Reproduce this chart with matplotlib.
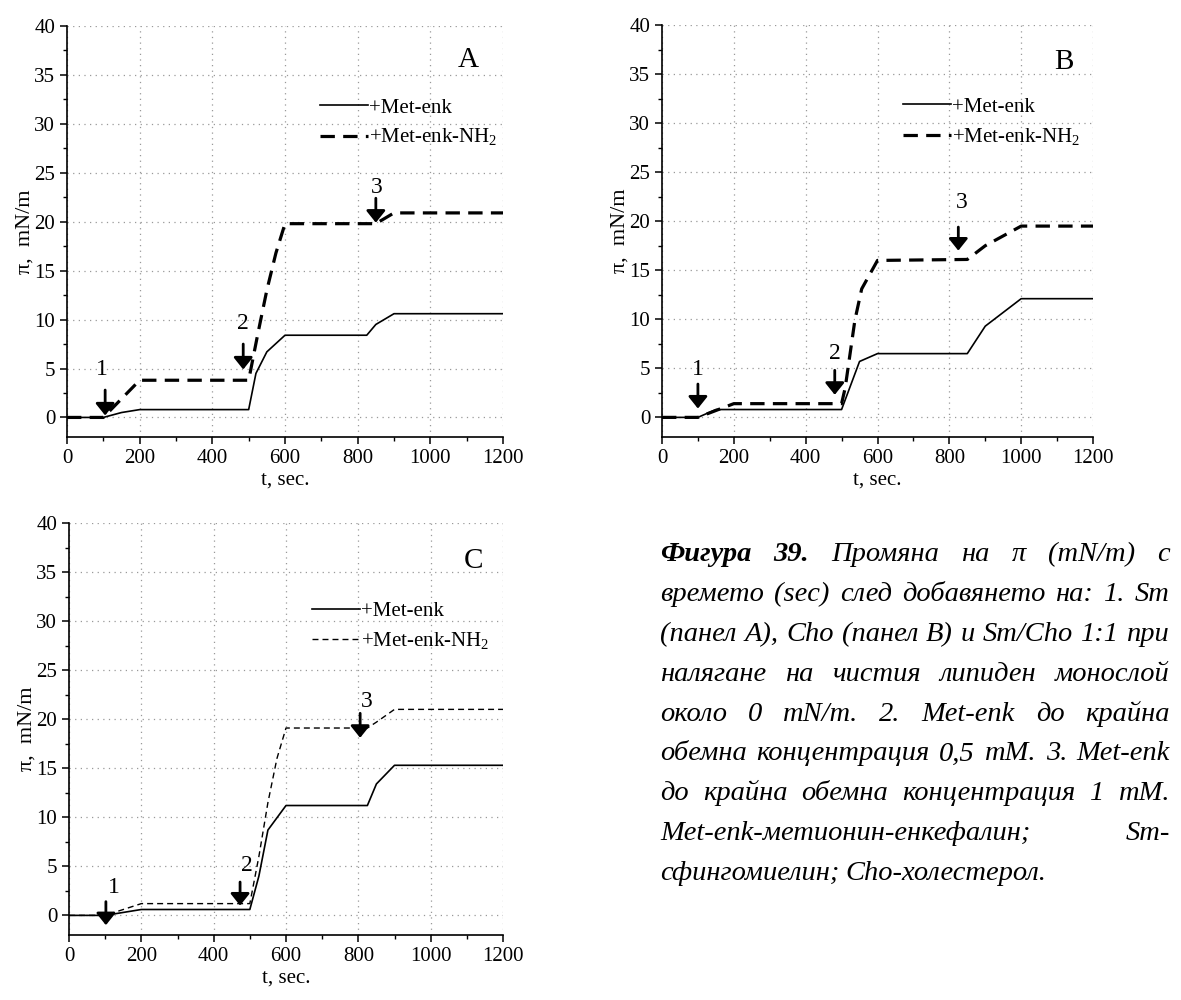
import matplotlib
matplotlib.use("Agg")
import matplotlib.pyplot as plt
from matplotlib.ticker import MultipleLocator

plt.rcParams['font.family'] = ['Liberation Serif', 'DejaVu Serif']
plt.rcParams['mathtext.fontset'] = 'custom'
plt.rcParams['mathtext.rm'] = 'Liberation Serif'

# ---- data ----
# panel A
a_t_enk = [0, 100, 150, 200, 500, 520, 550, 600, 825, 850, 900, 1200]
a_pi_enk = [0, 0, 0.5, 0.8, 0.8, 4.5, 6.7, 8.4, 8.4, 9.5, 10.6, 10.6]
a_t_nh2 = [0, 100, 200, 500, 525, 550, 575, 600, 850, 900, 1200]
a_pi_nh2 = [0, 0, 3.8, 3.8, 8.5, 13.0, 16.8, 19.8, 19.8, 20.9, 20.9]

# panel B
b_t_enk = [0, 100, 150, 500, 550, 600, 850, 900, 1000, 1200]
b_pi_enk = [0, 0, 0.8, 0.8, 5.7, 6.5, 6.5, 9.3, 12.1, 12.1]
b_t_nh2 = [0, 100, 200, 500, 510, 537, 556, 600, 850, 900, 1000, 1200]
b_pi_nh2 = [0, 0, 1.4, 1.4, 3.0, 9.9, 13.1, 16.0, 16.1, 17.5, 19.5, 19.5]

# panel C
c_t_enk = [0, 100, 200, 500, 525, 550, 600, 825, 850, 900, 1200]
c_pi_enk = [0, 0, 0.6, 0.6, 4.0, 8.7, 11.2, 11.2, 13.4, 15.3, 15.3]
c_t_nh2 = [0, 100, 200, 500, 525, 550, 575, 600, 825, 850, 900, 1200]
c_pi_nh2 = [0, 0, 1.2, 1.2, 6.0, 11.5, 16.0, 19.1, 19.1, 19.7, 21.0, 21.0]

# addition markers: (label, x of arrow, tail y, tip y, label x, label y)
a_marks = [("1", 105, 2.8, 0.2, 97, 4.9), ("2", 485, 7.5, 4.9, 484, 9.6), ("3", 850, 22.4, 19.9, 852, 23.5)]
b_marks = [("1", 100, 3.4, 0.9, 100, 4.9), ("2", 481, 4.8, 2.3, 481, 6.5), ("3", 825, 19.4, 17.0, 835, 21.9)]
c_marks = [("1", 102, 1.4, -1.0, 123, 2.8), ("2", 473, 3.4, 1.0, 492, 5.1), ("3", 805, 20.6, 18.1, 822, 21.8)]

labels = ["+Met-enk", "+Met-enk-NH$_2$"]

caption = [
    [("Фигура", True), ("39.", True), ("Промяна", False), ("на", False), ("π", False), ("(mN/m)", False), ("с", False)],
    "времето (sec) след добавянето на: 1. Sm",
    "(панел А), Cho (панел В) и Sm/Cho 1:1 при",
    "налягане на чистия липиден монослой",
    "около 0 mN/m. 2. Met-enk до крайна",
    "обемна концентрация 0,5 mM. 3. Met-enk",
    "до крайна обемна концентрация 1 mM.",
    "Met-enk-метионин-енкефалин; Sm-",
    "сфингомиелин; Cho-холестерол.",
]

W, H = 1181, 1000
fig = plt.figure(figsize=(W / 100, H / 100), dpi=100)


def panel(rect, t1, p1, t2, p2, dash, dlw, marks, letter, leg_xy):
    ax = fig.add_axes(rect)
    ax.plot(t1, p1, color='k', lw=1.2, label=labels[0])
    ax.plot(t2, p2, color='k', lw=dlw, dashes=dash, label=labels[1])
    ax.set_xlim(0, 1200)
    ax.set_ylim(-2, 40)
    ax.xaxis.set_major_locator(MultipleLocator(200))
    ax.xaxis.set_minor_locator(MultipleLocator(100))
    ax.yaxis.set_major_locator(MultipleLocator(5))
    ax.yaxis.set_minor_locator(MultipleLocator(2.5))
    for s in ['top', 'right']:
        ax.spines[s].set_visible(False)
    for s in ['left', 'bottom']:
        ax.spines[s].set_linewidth(1.2)
    ax.tick_params(which='major', length=5, width=1.1, labelsize=15, direction='out')
    ax.tick_params(which='minor', length=3, width=1.0, direction='out')
    ax.grid(True, which='major', color='#999999', ls=(0, (1, 3.5)), lw=0.9)
    ax.set_axisbelow(True)
    ax.set_xlabel("t, sec.", fontsize=15, labelpad=2)
    ax.set_ylabel("π,  mN/m", fontsize=16, labelpad=0)
    fig.canvas.draw()
    xg = ax.xaxis.get_gridlines()
    xg[0].set_visible(False)
    xg[-1].set_visible(False)
    ax.yaxis.get_gridlines()[-1].set_visible(False)
    for lab, x, y0, y1, lx, ly in marks:
        ax.annotate('', xy=(x, y1), xytext=(x, y0),
                    arrowprops=dict(arrowstyle='-|>,head_length=0.45,head_width=0.36',
                                    color='k', lw=2, mutation_scale=16,
                                    shrinkA=0, shrinkB=0))
        ax.text(lx, ly, lab, ha='center', va='center', fontsize=17)
    ax.text(letter[1], letter[2], letter[0], ha='center', va='center', fontsize=21)
    ax.legend(loc='upper left', bbox_to_anchor=leg_xy, frameon=False, fontsize=15,
              handlelength=2.3, handletextpad=0.05, labelspacing=0.45, borderpad=0,
              borderaxespad=0)
    return ax


panel([67 / W, 1 - 437 / H, 436 / W, 411 / H], a_t_enk, a_pi_enk, a_t_nh2, a_pi_nh2,
      (4.5, 2.6), 2.3, a_marks, ("A", 1104, 36.5), (0.58, 0.825))
panel([662 / W, 1 - 437 / H, 431 / W, 412 / H], b_t_enk, b_pi_enk, b_t_nh2, b_pi_nh2,
      (4.5, 2.6), 2.3, b_marks, ("B", 1118, 36.2), (0.56, 0.825))
panel([69 / W, 1 - 935 / H, 434 / W, 412 / H], c_t_enk, c_pi_enk, c_t_nh2, c_pi_nh2,
      (4.3, 2.9), 1.0, c_marks, ("C", 1119, 36.1), (0.56, 0.81))

# justified italic caption
fig.canvas.draw()
r = fig.canvas.get_renderer()
x0, x1 = 660, 1170
for i, line in enumerate(caption):
    if isinstance(line, str):
        line = [(w, False) for w in line.split()]
    yb = 561 + 39.9 * i
    txts = [fig.text(0, 1 - yb / H, w, fontsize=20.5, style='italic',
                     weight='bold' if b else 'normal', va='baseline', ha='left')
            for w, b in line]
    widths = [t.get_window_extent(r).width for t in txts]
    if i == len(caption) - 1:
        gap = 6
    else:
        gap = (x1 - x0 - sum(widths)) / (len(txts) - 1)
    x = x0
    for t, w in zip(txts, widths):
        t.set_x(x / W)
        x += w + gap

fig.savefig("out.png", dpi=100)
